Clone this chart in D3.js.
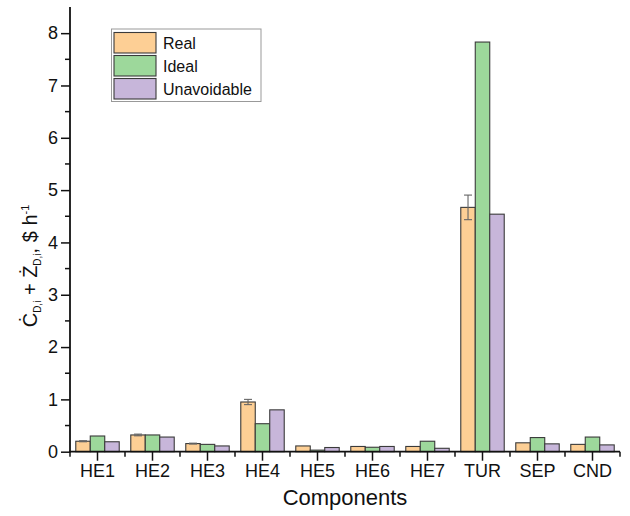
<!DOCTYPE html>
<html>
<head>
<meta charset="utf-8">
<script src="https://cdn.jsdelivr.net/npm/d3@7"></script>
<style>
  html, body { margin: 0; padding: 0; background: #fff; }
  svg { display: block; font-family: "Liberation Sans", Arial, Helvetica, sans-serif; }
</style>
</head>
<body>
<svg id="chart" width="630" height="516"></svg>
<script>
// Components along the x axis
const components = ["HE1", "HE2", "HE3", "HE4", "HE5", "HE6", "HE7", "TUR", "SEP", "CND"];
// Cost rate of exergy destruction plus investment cost rate, $ per hour
const realValues        = [0.20, 0.32, 0.155, 0.95, 0.11, 0.10, 0.10, 4.67, 0.17, 0.14];
const idealValues       = [0.30, 0.32, 0.14, 0.535, 0.03, 0.085, 0.20, 7.83, 0.27, 0.28];
const unavoidableValues = [0.19, 0.28, 0.11, 0.80, 0.08, 0.10, 0.065, 4.54, 0.15, 0.13];
// Uncertainty on the real case
const realErrors        = [0.01, 0.016, 0.008, 0.05, 0.0, 0.0, 0.0, 0.235, 0.0, 0.0];
const seriesNames = ["Real", "Ideal", "Unavoidable"];
const yTicks = [0, 1, 2, 3, 4, 5, 6, 7, 8];

const colors = { Real: "#FDCF95", Ideal: "#9DD89B", Unavoidable: "#C7B6DA" };

const svg = d3.select("#chart");
const x0 = 70, x1 = 620, yBase = 451.7, yTop = 7;

const x = d3.scaleBand().domain(components).range([x0, x1]).padding(0);
const bw = x.bandwidth();
const xs = d3.scaleBand().domain(seriesNames).range([bw * 0.105, bw * 0.895]).padding(0);
const y = d3.scaleLinear().domain([0, 8.5]).range([yBase, yTop]);

const rows = components.map((c, i) => ({
  comp: c,
  Real: realValues[i],
  Ideal: idealValues[i],
  Unavoidable: unavoidableValues[i],
  err: realErrors[i]
}));

// Bars
const groups = svg.append("g").selectAll("g").data(rows).join("g")
  .attr("transform", d => `translate(${x(d.comp)},0)`);
groups.selectAll("rect").data(d => seriesNames.map(s => ({ s, v: d[s] })))
  .join("rect")
  .attr("x", d => xs(d.s))
  .attr("width", xs.bandwidth())
  .attr("y", d => y(d.v))
  .attr("height", d => y(0) - y(d.v))
  .attr("fill", d => colors[d.s])
  .attr("stroke", "#3a3a3a")
  .attr("stroke-width", 1.1);

// Error bars on the real case
const cx = xs("Real") + xs.bandwidth() / 2;
const eb = groups.filter(d => d.err > 0).append("g")
  .attr("stroke", "#666").attr("stroke-width", 1.1).attr("fill", "none");
eb.append("line")
  .attr("x1", cx).attr("x2", cx)
  .attr("y1", d => y(d.Real - d.err)).attr("y2", d => y(d.Real + d.err));
eb.append("line")
  .attr("x1", cx - 4).attr("x2", cx + 4)
  .attr("y1", d => y(d.Real + d.err)).attr("y2", d => y(d.Real + d.err));
eb.append("line")
  .attr("x1", cx - 4).attr("x2", cx + 4)
  .attr("y1", d => y(d.Real - d.err)).attr("y2", d => y(d.Real - d.err));

// Y axis with major and minor ticks
const yAxis = svg.append("g").attr("transform", `translate(${x0},0)`);
yAxis.call(d3.axisLeft(y).tickValues(yTicks).tickFormat(d3.format("d")).tickSize(9).tickPadding(3))
  .call(g => g.select(".domain").remove());
yAxis.selectAll(".tick line").attr("stroke", "#111").attr("stroke-width", 1.5);
yAxis.selectAll(".tick text").attr("font-size", 18).attr("fill", "#111")
  .attr("font-family", "Liberation Sans, Arial, sans-serif");
const yMinor = d3.range(0.5, 8.5, 1);
yAxis.selectAll(".minor").data(yMinor).join("line")
  .attr("x1", -5).attr("x2", 0).attr("y1", d => y(d)).attr("y2", d => y(d))
  .attr("stroke", "#111").attr("stroke-width", 1.5);
yAxis.append("line").attr("x1", 0).attr("x2", 0).attr("y1", y(8.5)).attr("y2", yBase + 0.75)
  .attr("stroke", "#111").attr("stroke-width", 1.8);

// X axis with category ticks and minor ticks at band edges
const xAxis = svg.append("g").attr("transform", `translate(0,${yBase})`);
xAxis.call(d3.axisBottom(x).tickSize(9).tickPadding(4))
  .call(g => g.select(".domain").remove());
xAxis.selectAll(".tick line").attr("stroke", "#111").attr("stroke-width", 1.5);
xAxis.selectAll(".tick text").attr("font-size", 18).attr("fill", "#111")
  .attr("font-family", "Liberation Sans, Arial, sans-serif");
const edges = components.map(c => x(c)).concat([x1]);
xAxis.selectAll(".minor").data(edges).join("line")
  .attr("x1", d => d).attr("x2", d => d).attr("y1", 0).attr("y2", 5)
  .attr("stroke", "#111").attr("stroke-width", 1.5);
xAxis.append("line").attr("x1", x0 - 0.9).attr("x2", x1).attr("y1", 0).attr("y2", 0)
  .attr("stroke", "#111").attr("stroke-width", 1.8);

// Axis titles
svg.append("text")
  .attr("x", (x0 + x1) / 2).attr("y", 505)
  .attr("text-anchor", "middle").attr("font-size", 22).attr("fill", "#111")
  .text("Components");

const yLabel = svg.append("text")
  .attr("transform", "translate(37,266) rotate(-90)")
  .attr("text-anchor", "middle").attr("font-size", 20).attr("fill", "#111");
yLabel.append("tspan").text("\u010A");
yLabel.append("tspan").attr("font-size", 10).attr("dy", 4).text("D,i");
yLabel.append("tspan").attr("dy", -4).text(" + \u017B");
yLabel.append("tspan").attr("font-size", 10).attr("dy", 4).text("D,i");
yLabel.append("tspan").attr("dy", -4).text(", $ h");
yLabel.append("tspan").attr("font-size", 11).attr("dy", -8).text("-1");

// Legend
const legend = svg.append("g").attr("transform", "translate(111.5,29)");
legend.append("rect").attr("width", 149.5).attr("height", 72.5)
  .attr("fill", "#fff").attr("stroke", "#999").attr("stroke-width", 1);
seriesNames.forEach((s, i) => {
  const gy = 3.5 + i * 23;
  legend.append("rect").attr("x", 2.5).attr("y", gy).attr("width", 42).attr("height", 20.5)
    .attr("fill", colors[s]).attr("stroke", "#3a3a3a").attr("stroke-width", 1.1);
  legend.append("text").attr("x", 51.5).attr("y", gy + 16)
    .attr("font-size", 16).attr("fill", "#111").text(s);
});
</script>
</body>
</html>
